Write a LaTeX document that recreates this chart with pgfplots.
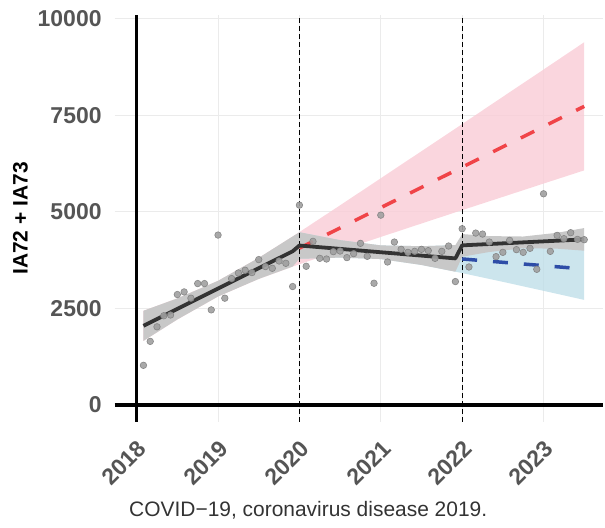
\documentclass[border=0pt]{standalone}
\usepackage{pgfplots}
\pgfplotsset{compat=1.18}
\usepackage{pgfplotstable}
\usepgfplotslibrary{fillbetween}
\usepackage{fontspec}
\setmainfont{Liberation Sans}
\definecolor{tickgray}{RGB}{85,85,85}
\definecolor{gridgray}{RGB}{235,235,235}
\definecolor{ribgray}{RGB}{200,200,200}
\definecolor{pinkfill}{RGB}{249,204,214}
\definecolor{bluefill}{RGB}{191,222,232}
\definecolor{redline}{RGB}{240,68,72}
\definecolor{blueline}{RGB}{46,77,167}
\definecolor{fitline}{RGB}{51,51,51}
\definecolor{ptfill}{RGB}{160,160,160}
\definecolor{ptdraw}{RGB}{128,128,128}
\definecolor{captiongray}{RGB}{51,51,51}

\pgfplotstableread{
x y
2018.0833 1026
2018.1667 1646
2018.25 2023
2018.3333 2310
2018.4167 2330
2018.5 2860
2018.5833 2928
2018.6667 2765
2018.75 3144
2018.8333 3144
2018.9167 2463
2019.0 4401
2019.0833 2765
2019.1667 3274
2019.25 3419
2019.3333 3488
2019.4167 3428
2019.5 3765
2019.5833 3584
2019.6667 3540
2019.75 3729
2019.8333 3669
2019.9167 3067
2020.0 5176
2020.0833 3592
2020.1667 4238
2020.25 3798
2020.3333 3780
2020.4167 3971
2020.5 3987
2020.5833 3816
2020.6667 3919
2020.75 4186
2020.8333 3850
2020.9167 3152
2021.0 4917
2021.0833 3703
2021.1667 4220
2021.25 4031
2021.3333 3953
2021.4167 3979
2021.5 4031
2021.5833 3997
2021.6667 3798
2021.75 3979
2021.8333 4117
2021.9167 3196
2022.0 4565
2022.0833 3574
2022.1667 4452
2022.25 4426
2022.3333 4220
2022.4167 3842
2022.5 3953
2022.5833 4264
2022.6667 4023
2022.75 3953
2022.8333 4057
2022.9167 3514
2023.0 5470
2023.0833 3979
2023.1667 4393
2023.25 4307
2023.3333 4462
2023.4167 4289
2023.5 4281
}\obs

\pgfplotstableread{
x lo hi
2018.0833 1659 2439
2018.5 2214 2760
2019.0 2809 3215
2019.5 3264 3810
2019.9167 3584 4364
2020.0 3645 4478
2020.5 4002 5172
2021.0 4352 5872
2021.5 4700 6574
2022.0 5047 7277
2022.5 5390 7984
2023.0 5735 8689
2023.5 6077 9397
}\pinktab

\pgfplotstableread{
x lo hi
2020.0 3786 4474
2020.5 3817 4269
2021.0 3779 4133
2021.5 3626 4112
2022.0 3416 4148
2022.5 3189 4201
2023.0 2956 4260
2023.5 2721 4321
}\bluetab

\pgfplotstableread{
x lo hi
2018.0833 1659 2439
2018.5 2214 2760
2019.0 2809 3215
2019.5 3264 3810
2019.9167 3584 4364
2020.0 3786 4474
2020.5 3817 4269
2021.0 3779 4133
2021.5 3626 4112
2021.9167 3452 4140
2022.0 3841 4427
2022.3333 3962 4374
2022.75 4059 4363
2023.1667 4048 4460
2023.5 3996 4582
}\graytab

\pgfplotstableread{
x y
2018.0833 2049
2019.9167 3980
2020.0 4130
2021.9167 3796
2022.0 4134
2023.5 4289
}\fittab

\begin{document}
\begin{tikzpicture}
\begin{axis}[
  scale only axis, width=490pt, height=408pt,
  xmin=2017.73, xmax=2023.735, ymin=-439, ymax=10103,
  clip=false,
  scaled ticks=false,
  axis line style={draw=none},
  tick style={draw=none},
  xtick={2018,2019,2020,2021,2022,2023},
  xticklabels={2018,2019,2020,2021,2022,2023},
  ytick={0,2500,5000,7500,10000},
  yticklabels={0,2500,5000,7500,10000},
  grid=major, major grid style={gridgray, line width=1pt},
  ticklabel style={font=\fontsize{23}{26}\selectfont\bfseries, text=tickgray},
  xticklabel style={yshift=-17pt, rotate=45, anchor=north east, inner sep=0pt},
  yticklabel style={anchor=east, inner sep=0pt, xshift=-13pt},
  ylabel={IA72 + IA73},
  ylabel style={at={(rel axis cs:-0.193,0.5)}, anchor=center, font=\fontsize{21}{24}\selectfont\bfseries, text=black},
]
% bounding box of the whole figure
\path (rel axis cs:-0.2347,-0.2598) rectangle (rel axis cs:1,1.0368);

% ribbons
\addplot[draw=none, name path=pU, forget plot] table[x=x,y=hi] \pinktab;
\addplot[draw=none, name path=pL, forget plot] table[x=x,y=lo] \pinktab;
\addplot[fill=pinkfill, fill opacity=0.8, draw=none] fill between[of=pU and pL];
\addplot[draw=none, name path=bU, forget plot] table[x=x,y=hi] \bluetab;
\addplot[draw=none, name path=bL, forget plot] table[x=x,y=lo] \bluetab;
\addplot[fill=bluefill, fill opacity=0.8, draw=none] fill between[of=bU and bL];
\addplot[draw=none, name path=gU, forget plot] table[x=x,y=hi] \graytab;
\addplot[draw=none, name path=gL, forget plot] table[x=x,y=lo] \graytab;
\addplot[fill=ribgray, draw=none] fill between[of=gU and gL];

% reference lines
\addplot[black, line width=3.3pt] coordinates {(2017.73,0) (2023.735,0)};
\addplot[black, line width=3.3pt] coordinates {(2018,-439) (2018,10103)};
\addplot[black, line width=1.2pt, dash pattern=on 5pt off 3pt] coordinates {(2020,-439) (2020,10103)};
\addplot[black, line width=1.2pt, dash pattern=on 5pt off 3pt] coordinates {(2022,-439) (2022,10103)};

% counterfactual trends
\addplot[redline, line width=3.5pt, dash pattern=on 15pt off 16pt] coordinates {(2020.0,4061) (2023.5,7736)};
\addplot[blueline, line width=3.5pt, dash pattern=on 15pt off 16pt] coordinates {(2022.0,3782) (2023.5,3521)};

% fitted segmented line
\addplot[fitline, line width=3.8pt, line join=round] table[x=x,y=y] \fittab;

% observations
\addplot[only marks, mark=*, mark size=3.3pt, mark options={fill=ptfill, draw=ptdraw, line width=0.6pt, opacity=0.9}] table[x=x,y=y] \obs;

\node[anchor=base, font=\fontsize{21}{24}\selectfont, text=captiongray] at (rel axis cs:0.396,-0.2328) {COVID−19, coronavirus disease 2019.};
\end{axis}
\end{tikzpicture}
\end{document}
